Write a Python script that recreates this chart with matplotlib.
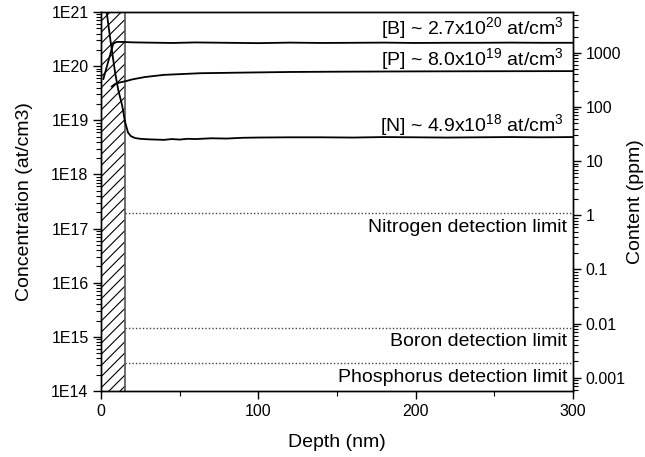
import matplotlib
matplotlib.use("Agg")
import matplotlib.pyplot as plt
from matplotlib.patches import Rectangle
from matplotlib.ticker import LogLocator, NullFormatter, FixedLocator

plt.rcParams['font.family'] = ['Liberation Sans', 'DejaVu Sans']
plt.rcParams['mathtext.fontset'] = 'custom'
plt.rcParams['mathtext.rm'] = 'Liberation Sans'
plt.rcParams['mathtext.it'] = 'Liberation Sans'
plt.rcParams['hatch.linewidth'] = 0.8

# ---- data ----
depth_B = [1.5, 4.0, 6.0, 7.8, 10, 14, 20, 30, 45, 60, 80, 100, 120, 140, 160, 180, 200, 220, 240, 260, 280, 300]
conc_B = [5.8e19, 1.05e20, 1.7e20, 2.6e20, 2.8e20, 2.8e20, 2.75e20, 2.72e20, 2.68e20, 2.74e20, 2.7e20,
          2.66e20, 2.72e20, 2.68e20, 2.7e20, 2.72e20, 2.68e20, 2.7e20, 2.7e20, 2.72e20, 2.7e20, 2.7e20]

depth_P = [6.8, 9, 12, 16, 20, 28, 40, 63, 90, 120, 150, 200, 250, 300]
conc_P = [4.2e19, 4.7e19, 5.0e19, 5.3e19, 5.7e19, 6.3e19, 6.9e19, 7.4e19, 7.6e19, 7.8e19, 7.9e19,
          8.0e19, 8.05e19, 8.1e19]

depth_N = [3.5, 6, 8.9, 11, 13.4, 15.3, 17.2, 19, 21.6, 25, 30, 35, 40, 45, 50, 55, 60, 70, 80, 90,
           100, 120, 140, 160, 180, 200, 220, 240, 260, 280, 300]
conc_N = [1.05e21, 3.0e20, 7.8e19, 3.6e19, 1.9e19, 9.3e18, 5.9e18, 5.1e18, 4.7e18, 4.55e18, 4.45e18,
          4.4e18, 4.35e18, 4.5e18, 4.4e18, 4.55e18, 4.5e18, 4.65e18, 4.6e18, 4.75e18, 4.8e18, 4.85e18,
          4.85e18, 4.8e18, 4.9e18, 4.85e18, 4.8e18, 4.85e18, 4.9e18, 4.85e18, 4.9e18]

det_limits = [1.9e17, 1.48e15, 3.25e14]
det_labels = ['Nitrogen detection limit', 'Boron detection limit', 'Phosphorus detection limit']

ann_labels = [r'[B] ~ 2.7x10$^{20}$ at/cm$^{3}$', r'[P] ~ 8.0x10$^{19}$ at/cm$^{3}$',
              r'[N] ~ 4.9x10$^{18}$ at/cm$^{3}$']
ann_y = [5.0e20, 1.38e20, 8.3e18]

surface_depth = 15
ppm_factor = 1.76e17  # at/cm3 per ppm

left_ticks = [1e14, 1e15, 1e16, 1e17, 1e18, 1e19, 1e20, 1e21]
left_ticklabels = ['1E14', '1E15', '1E16', '1E17', '1E18', '1E19', '1E20', '1E21']
right_ticks = [0.001, 0.01, 0.1, 1, 10, 100, 1000]
right_ticklabels = ['0.001', '0.01', '0.1', '1', '10', '100', '1000']

# ---- figure ----
fig = plt.figure(figsize=(6.45, 4.57), dpi=100)
ax = fig.add_axes([101/645, 1-391/457, (573-101)/645, (391-12)/457])

ax.set_xlim(0, 300)
ax.set_yscale('log')
ax.set_ylim(1e14, 1e21)

ax.add_patch(Rectangle((0, 1e14), surface_depth, 1e21 - 1e14, facecolor='white',
                       edgecolor='black', hatch='///', linewidth=0.0, zorder=1))
ax.axvline(surface_depth, color='#555555', lw=1.2, zorder=1.5)

for d, c in [(depth_B, conc_B), (depth_P, conc_P), (depth_N, conc_N)]:
    ax.plot(d, c, color='black', lw=1.3, zorder=3, clip_on=True)

for v in det_limits:
    ax.plot([surface_depth, 300], [v, v], color='#444444', lw=1.0, ls=(0, (1, 1.5)), zorder=2)

det_text_y = [1.05e17, 0.82e15, 1.78e14]
for lab, yv in zip(det_labels, det_text_y):
    ax.text(296.5, yv, lab, ha='right', va='center', fontsize=14)

for lab, yv in zip(ann_labels, ann_y):
    ax.text(294, yv, lab, ha='right', va='center', fontsize=14)

ax.set_yticks(left_ticks)
ax.set_yticklabels(left_ticklabels, fontsize=11.5)
ax.yaxis.set_minor_locator(LogLocator(base=10, subs=range(2, 10), numticks=20))
ax.yaxis.set_minor_formatter(NullFormatter())
ax.set_xticks([0, 100, 200, 300])
ax.set_xticklabels(['0', '100', '200', '300'], fontsize=11.5)
ax.xaxis.set_minor_locator(FixedLocator([50, 150, 250]))
ax.tick_params(which='major', direction='out', length=6, width=1, pad=3)
ax.tick_params(which='minor', direction='out', length=3.5, width=0.8)
ax.tick_params(axis='y', which='both', right=False)
ax.tick_params(axis='x', which='both', top=False)

ax.set_xlabel('Depth (nm)', fontsize=14, labelpad=11)
ax.set_ylabel('Concentration (at/cm3)', fontsize=14, labelpad=13)

ax2 = ax.twinx()
ax2.set_yscale('log')
ax2.set_ylim(1e14 / ppm_factor, 1e21 / ppm_factor)
ax2.set_yticks(right_ticks)
ax2.set_yticklabels(right_ticklabels, fontsize=11.5)
ax2.yaxis.set_minor_locator(LogLocator(base=10, subs=range(2, 10), numticks=20))
ax2.yaxis.set_minor_formatter(NullFormatter())
ax2.tick_params(which='major', direction='out', length=6, width=1, pad=3)
ax2.tick_params(which='minor', direction='out', length=3.5, width=0.8)
ax2.set_ylabel('Content (ppm)', fontsize=14, labelpad=1)

for a in (ax, ax2):
    for s in a.spines.values():
        s.set_linewidth(1.0)

fig.savefig('out.png', dpi=100)
